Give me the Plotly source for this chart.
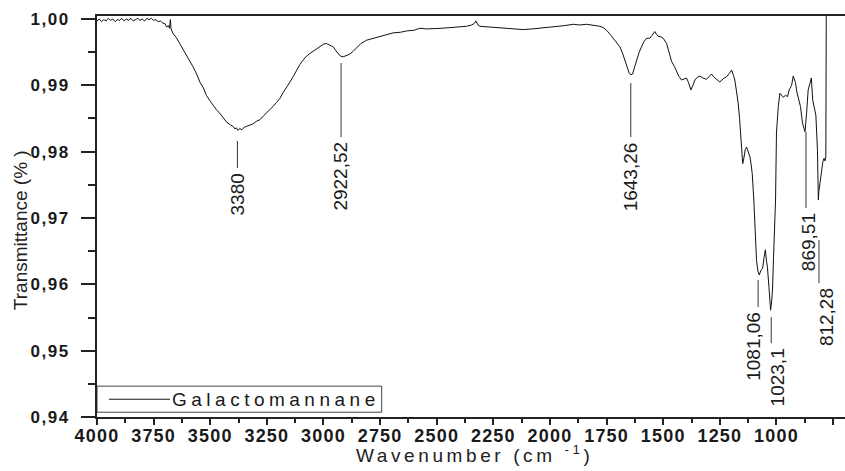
import plotly.graph_objects as go

# FTIR spectrum of galactomannan: wavenumber (cm-1) vs transmittance
SERIES_NAME = "Galactomannane"

wavenumber = [
    4000, 3990, 3980, 3970, 3960, 3950, 3940, 3930, 3920, 3910, 3900, 3890, 3880, 3870,
    3860, 3850, 3840, 3830, 3820, 3810, 3800, 3790, 3780, 3770, 3760, 3750, 3740, 3730,
    3720, 3710, 3700, 3693, 3685, 3680, 3676, 3673, 3664, 3650, 3635, 3620, 3605, 3590,
    3576, 3560, 3546, 3530, 3517, 3500, 3488, 3470, 3458, 3440, 3429, 3410, 3399, 3390,
    3385, 3377, 3370, 3360, 3350, 3340, 3325, 3311, 3295, 3281, 3265, 3252, 3238, 3223,
    3208, 3193, 3178, 3163, 3148, 3134, 3120, 3105, 3090, 3075, 3060, 3046, 3030, 3016,
    3000, 2987, 2972, 2957, 2945, 2935, 2925, 2913, 2900, 2884, 2870, 2854, 2835, 2810,
    2780, 2751, 2720, 2693, 2660, 2633, 2600, 2575, 2545, 2516, 2480, 2442, 2405, 2368,
    2346, 2335, 2327, 2318, 2310, 2265, 2220, 2177, 2140, 2118, 2080, 2045, 2010, 1971,
    1935, 1897, 1870, 1838, 1810, 1780, 1765, 1750, 1735, 1721, 1705, 1691, 1680, 1669,
    1660, 1650, 1642, 1635, 1626, 1618, 1607, 1596, 1585, 1573, 1559, 1550, 1544, 1537,
    1530, 1522, 1510, 1500, 1485, 1475, 1463, 1450, 1441, 1430, 1419, 1408, 1397, 1388,
    1378, 1370, 1360, 1350, 1338, 1325, 1309, 1298, 1287, 1275, 1262, 1250, 1235, 1220,
    1208, 1198, 1190, 1184, 1176, 1169, 1163, 1158, 1153, 1149, 1144, 1138, 1132, 1124,
    1117, 1112, 1107, 1100, 1095, 1088, 1082, 1076, 1069, 1061, 1055, 1049, 1044, 1040,
    1033, 1026, 1021, 1017, 1013, 1010, 1004, 1000, 996, 992, 985, 977, 970, 960,
    951, 944, 938, 933, 926, 921, 916, 910, 904, 894, 885, 878, 874, 867,
    860, 852, 846, 840, 834, 826, 819, 815, 813, 808, 800, 795, 790, 786,
    782, 780,
]

transmittance = [
    0.9997, 1.0000, 0.9996, 0.9999, 0.9997, 1.0001, 0.9998, 1.0000, 0.9996, 0.9999, 0.9998, 1.0001, 0.9997, 1.0000,
    0.9998, 1.0001, 0.9997, 0.9999, 1.0001, 0.9998, 1.0000, 0.9997, 1.0001, 0.9999, 1.0001, 0.9998, 0.9999, 0.9996,
    0.9997, 0.9994, 0.9993, 0.9988, 0.9990, 0.9986, 0.9999, 0.9985, 0.9978, 0.9972, 0.9963, 0.9956, 0.9946, 0.9938,
    0.9928, 0.9917, 0.9905, 0.9896, 0.9885, 0.9876, 0.9870, 0.9862, 0.9858, 0.9849, 0.9845, 0.9840, 0.9838, 0.9834,
    0.9836, 0.9832, 0.9835, 0.9833, 0.9837, 0.9838, 0.9840, 0.9842, 0.9846, 0.9848, 0.9854, 0.9858, 0.9863, 0.9868,
    0.9874, 0.9880, 0.9889, 0.9898, 0.9905, 0.9913, 0.9922, 0.9931, 0.9938, 0.9944, 0.9948, 0.9951, 0.9955, 0.9958,
    0.9962, 0.9963, 0.9961, 0.9958, 0.9952, 0.9948, 0.9944, 0.9943, 0.9945, 0.9947, 0.9951, 0.9956, 0.9963, 0.9968,
    0.9971, 0.9974, 0.9976, 0.9979, 0.9980, 0.9982, 0.9983, 0.9986, 0.9985, 0.9985, 0.9986, 0.9987, 0.9988, 0.9989,
    0.9991, 0.9993, 0.9997, 0.9991, 0.9989, 0.9988, 0.9987, 0.9986, 0.9985, 0.9984, 0.9985, 0.9986, 0.9987, 0.9989,
    0.9990, 0.9992, 0.9991, 0.9992, 0.9991, 0.9989, 0.9987, 0.9983, 0.9977, 0.9971, 0.9964, 0.9958, 0.9949, 0.9938,
    0.9928, 0.9918, 0.9916, 0.9917, 0.9928, 0.9938, 0.9949, 0.9958, 0.9966, 0.9971, 0.9971, 0.9975, 0.9978, 0.9981,
    0.9977, 0.9974, 0.9973, 0.9971, 0.9963, 0.9950, 0.9936, 0.9928, 0.9921, 0.9913, 0.9908, 0.9910, 0.9911, 0.9904,
    0.9893, 0.9899, 0.9908, 0.9912, 0.9914, 0.9911, 0.9909, 0.9913, 0.9917, 0.9912, 0.9909, 0.9905, 0.9910, 0.9913,
    0.9918, 0.9923, 0.9915, 0.9908, 0.9890, 0.9873, 0.9850, 0.9828, 0.9803, 0.9782, 0.9790, 0.9803, 0.9807, 0.9800,
    0.9792, 0.9781, 0.9767, 0.9727, 0.9677, 0.9636, 0.9620, 0.9614, 0.9621, 0.9624, 0.9640, 0.9652, 0.9635, 0.9626,
    0.9595, 0.9561, 0.9575, 0.9596, 0.9640, 0.9677, 0.9727, 0.9828, 0.9855, 0.9868, 0.9888, 0.9885, 0.9882, 0.9885,
    0.9883, 0.9893, 0.9898, 0.9900, 0.9914, 0.9909, 0.9904, 0.9890, 0.9880, 0.9868, 0.9843, 0.9835, 0.9830, 0.9858,
    0.9893, 0.9903, 0.9911, 0.9878, 0.9868, 0.9855, 0.9802, 0.9727, 0.9740, 0.9752, 0.9777, 0.9785, 0.9790, 0.9786,
    0.9792, 1.0020,
]

# Assigned band positions (cm-1)
peak_positions = [3380, 2922.52, 1643.26, 1081.06, 1023.1, 869.51, 812.28]
# Leader line ends, in transmittance units, and horizontal nudge of each label (px)
leader_top = [0.98160, 0.99336, 0.99035, 0.96063, 0.95505, 0.98296, 0.96667]
leader_bottom = [0.97753, 0.98220, 0.98220, 0.95656, 0.95113, 0.97149, 0.96018]
label_nudge = [0, 0, 0, -4, 6, 2, 7]

x_ticks = [4000, 3750, 3500, 3250, 3000, 2750, 2500, 2250, 2000, 1750, 1500, 1250, 1000, 750]
y_ticks = [0.94, 0.95, 0.96, 0.97, 0.98, 0.99, 1.00]

FONT = "Liberation Sans, Arial, sans-serif"
INK = "#1a1a1a"


def spaced(text, px):
    return f'<span style="letter-spacing:{px}px">{text}</span>'


fig = go.Figure()
fig.add_trace(go.Scatter(
    x=wavenumber, y=transmittance, mode="lines",
    line=dict(color="#111111", width=1), name=SERIES_NAME, showlegend=False,
))

shapes = []
annotations = []
for pos, t, b, dx in zip(peak_positions, leader_top, leader_bottom, label_nudge):
    shapes.append(dict(type="line", xref="x", yref="y", x0=pos, x1=pos, y0=t, y1=b,
                       line=dict(color="#333333", width=1)))
    annotations.append(dict(
        x=pos, y=b, xref="x", yref="y", text=f"{pos:g}".replace(".", ","),
        textangle=-90, showarrow=False, xanchor="center", yanchor="top",
        xshift=dx, yshift=-3,
        font=dict(family=FONT, size=19, color=INK),
    ))

# Legend box drawn in the lower-left corner of the axes
shapes.append(dict(type="rect", xref="x", yref="y", x0=4000, x1=2743, y0=0.94072, y1=0.94465,
                   line=dict(color="#444444", width=1), fillcolor="white", layer="above"))
shapes.append(dict(type="line", xref="x", yref="y", x0=3947, x1=3678, y0=0.94268, y1=0.94268,
                   line=dict(color="#111111", width=1), layer="above"))
annotations.append(dict(
    x=3676, y=0.94268, xref="x", yref="y", text=spaced(SERIES_NAME, 4.5), showarrow=False,
    xanchor="left", yanchor="middle", font=dict(family=FONT, size=19, color=INK),
))

# Axis titles
annotations.append(dict(
    x=0, y=0.466, xref="paper", yref="paper", xshift=-77, text="Transmittance (%\u00a0)",
    textangle=-90, showarrow=False, xanchor="center", yanchor="middle",
    font=dict(family=FONT, size=19, color="#222222"),
))
annotations.append(dict(
    x=0.505, y=0, xref="paper", yref="paper", yshift=-37,
    text=spaced("Wavenumber (cm\u00a0<sup>-1</sup>)", 3.6), showarrow=False,
    xanchor="center", yanchor="middle", font=dict(family=FONT, size=19, color="#222222"),
))

fig.update_layout(
    width=845, height=471,
    margin=dict(l=97, r=0, t=16, b=54),
    paper_bgcolor="white", plot_bgcolor="white",
    showlegend=False,
    shapes=shapes, annotations=annotations,
    xaxis=dict(
        range=[4000, 697.4], showgrid=False, zeroline=False,
        showline=True, linecolor="#222222", linewidth=2, mirror=True,
        ticks="outside", ticklen=6, tickwidth=2, tickcolor="#222222",
        tickvals=x_ticks, ticktext=[spaced(str(v), 1.2) for v in x_ticks],
        tickfont=dict(family=FONT, size=18, color=INK, weight="bold"),
        ticklabelstandoff=-5,
        minor=dict(ticks="outside", ticklen=4, tickwidth=2, tickcolor="#222222", dtick=125,
                   tick0=4000, showgrid=False),
    ),
    yaxis=dict(
        range=[0.94, 1.00045], showgrid=False, zeroline=False,
        showline=True, linecolor="#222222", linewidth=2,
        ticks="outside", ticklen=14, tickwidth=2, tickcolor="#222222",
        tickvals=y_ticks, ticktext=[spaced(f"{v:.2f}".replace(".", ","), 1.5) for v in y_ticks],
        tickfont=dict(family=FONT, size=17, color=INK, weight="bold"),
        ticklabelstandoff=8,
        minor=dict(ticks="outside", ticklen=7, tickwidth=2, tickcolor="#222222", dtick=0.005,
                   tick0=0.94, showgrid=False),
    ),
)

fig.write_html("out.html")
